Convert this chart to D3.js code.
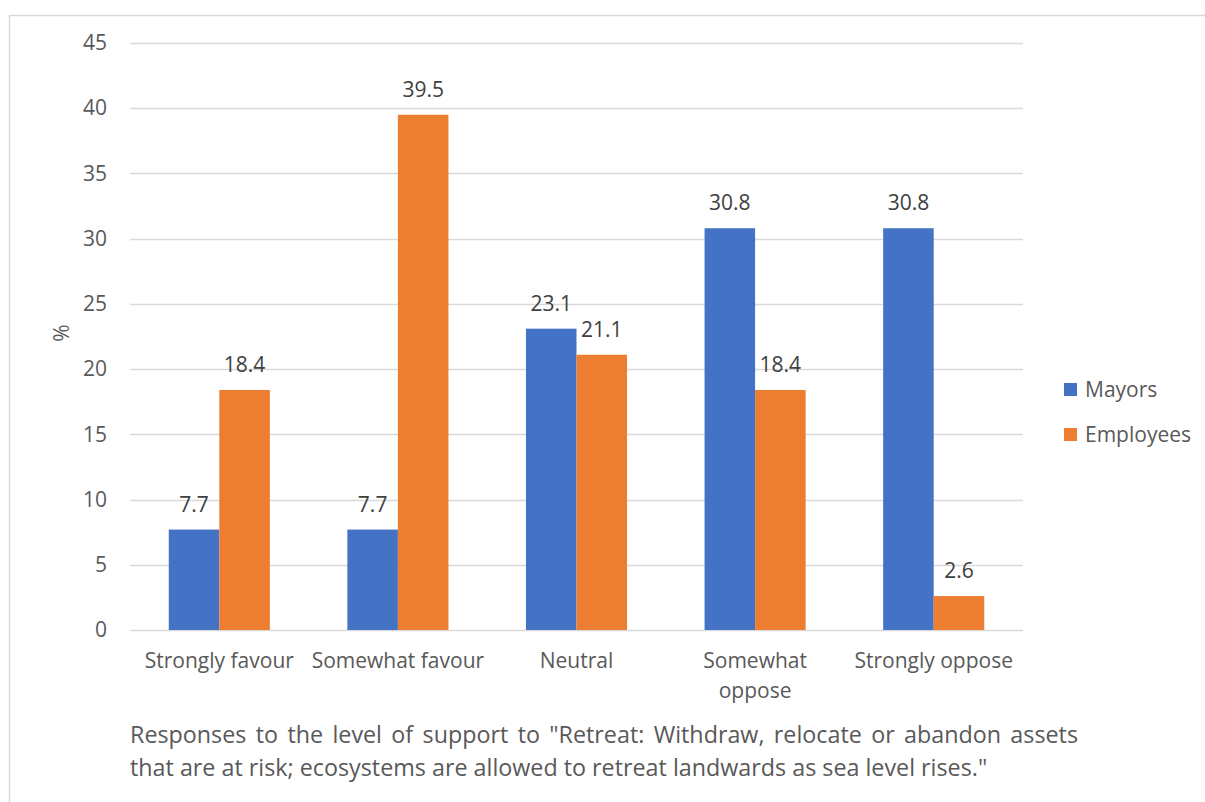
<!DOCTYPE html>
<html>
<head>
<meta charset="utf-8">
<script src="https://cdn.jsdelivr.net/npm/d3@7"></script>
<style>
  html, body { margin: 0; padding: 0; background: #fff; }
  svg { display: block; font-family: "Open Sans", sans-serif; }
</style>
</head>
<body>
<svg id="chart" width="1205" height="802"></svg>
<script>
// Survey response categories (line breaks mark wrapped axis labels)
const categories = ["Strongly favour", "Somewhat favour", "Neutral", "Somewhat\noppose", "Strongly oppose"];
const seriesNames = ["Mayors", "Employees"];
const mayors = [7.7, 7.7, 23.1, 30.8, 30.8];
const employees = [18.4, 39.5, 21.1, 18.4, 2.6];
const yTicks = [0, 5, 10, 15, 20, 25, 30, 35, 40, 45];
const colors = ["#4472c4", "#ed7d31"];
const captionLines = [
  "Responses to the level of support to \"Retreat: Withdraw, relocate or abandon assets",
  "that are at risk; ecosystems are allowed to retreat landwards as sea level rises.\""
];

const svg = d3.select("#chart");
const plot = { left: 130, right: 1023, top: 43, bottom: 630 };
const FONT = 21;

// frame around the chart area
svg.append("rect")
  .attr("x", 9.5).attr("y", 15.5)
  .attr("width", 1220).attr("height", 820)
  .attr("fill", "none").attr("stroke", "#d9d9d9").attr("stroke-width", 1.5);

const y = d3.scaleLinear().domain([0, 45]).range([plot.bottom, plot.top]);
const x0 = d3.scaleBand().domain(categories).range([plot.left, plot.right])
  .paddingInner(0.434).paddingOuter(0.217);
const x1 = d3.scaleBand().domain(seriesNames).range([0, x0.bandwidth()]);

// horizontal gridlines
svg.append("g").selectAll("line").data(yTicks).join("line")
  .attr("x1", plot.left).attr("x2", plot.right)
  .attr("y1", d => Math.round(y(d)) + 0.5).attr("y2", d => Math.round(y(d)) + 0.5)
  .attr("stroke", "#d9d9d9").attr("stroke-width", 1.3);

// y axis tick labels
const yAxis = d3.axisLeft(y).tickValues(yTicks).tickSize(0).tickPadding(0);
const yg = svg.append("g").attr("transform", `translate(107,0)`).call(yAxis);
yg.select(".domain").remove();
yg.selectAll("text").attr("font-size", FONT).attr("fill", "#595959")
  .attr("font-family", "'Open Sans', sans-serif");

// y axis title
svg.append("text")
  .attr("transform", "translate(69,333) rotate(-90)")
  .attr("text-anchor", "middle")
  .attr("font-size", FONT).attr("fill", "#595959").text("%");

// bars
const rows = categories.map((c, i) => ({ cat: c, values: [mayors[i], employees[i]] }));
const groups = svg.append("g").selectAll("g").data(rows).join("g")
  .attr("transform", d => `translate(${x0(d.cat)},0)`);

groups.selectAll("rect").data(d => d.values.map((v, k) => ({ name: seriesNames[k], v, k })))
  .join("rect")
  .attr("x", d => x1(d.name))
  .attr("y", d => y(d.v))
  .attr("width", x1.bandwidth())
  .attr("height", d => y(0) - y(d.v))
  .attr("fill", d => colors[d.k]);

groups.selectAll("text.val").data(d => d.values.map((v, k) => ({ name: seriesNames[k], v, k })))
  .join("text").attr("class", "val")
  .attr("x", d => x1(d.name) + x1.bandwidth() / 2)
  .attr("y", d => y(d.v) - 18)
  .attr("text-anchor", "middle")
  .attr("font-size", FONT).attr("fill", "#404040")
  .text(d => d.v.toFixed(1));

// category labels
const xl = svg.append("g").selectAll("text").data(categories).join("text")
  .attr("x", d => x0(d) + x0.bandwidth() / 2)
  .attr("y", 668)
  .attr("text-anchor", "middle")
  .attr("font-size", FONT).attr("fill", "#595959");
xl.each(function (d) {
  const parts = d.split("\n");
  d3.select(this).selectAll("tspan").data(parts).join("tspan")
    .attr("x", x0(d) + x0.bandwidth() / 2)
    .attr("dy", (p, i) => i === 0 ? 0 : 30)
    .text(p => p);
});

// legend
const legend = svg.append("g").selectAll("g").data(seriesNames).join("g")
  .attr("transform", (d, i) => `translate(1064,${383 + i * 45})`);
legend.append("rect").attr("width", 13).attr("height", 13)
  .attr("fill", (d, i) => colors[i]);
legend.append("text").attr("x", 21).attr("y", 14)
  .attr("font-size", FONT).attr("fill", "#595959").text(d => d);

// caption below the chart; first line justified by spreading the word gaps
const capLeft = 130, capRight = 1078, capSize = 23.3;
const cap = svg.append("g").attr("fill", "#595959").attr("font-size", capSize);
captionLines.forEach((line, i) => {
  const yPos = 743 + i * 33;
  if (i === 0) {
    const words = line.split(" ");
    const widths = words.map(w => {
      const t = cap.append("text").text(w);
      const wd = t.node().getComputedTextLength();
      t.remove();
      return wd;
    });
    const gap = (capRight - capLeft - d3.sum(widths)) / (words.length - 1);
    let xPos = capLeft;
    words.forEach((w, k) => {
      cap.append("text").attr("x", xPos).attr("y", yPos).text(w);
      xPos += widths[k] + gap;
    });
  } else {
    cap.append("text").attr("x", capLeft).attr("y", yPos).text(line);
  }
});
</script>
</body>
</html>
